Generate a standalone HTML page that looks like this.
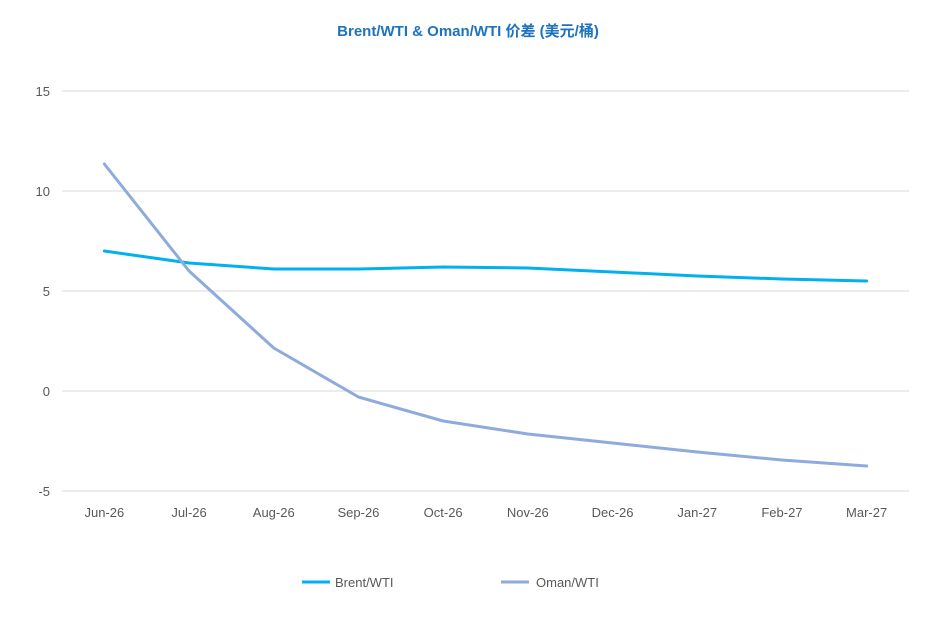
<!DOCTYPE html>
<html><head><meta charset="utf-8">
<style>
body{margin:0;background:#fff;font-family:"Liberation Sans","Noto Sans CJK SC",sans-serif;}
svg text{font-family:"Liberation Sans","Noto Sans CJK SC",sans-serif;}
</style></head>
<body>
<svg id="chart" width="937" height="634">
<text x="468" y="36" text-anchor="middle" font-size="15" font-weight="bold" fill="#1E73BE">Brent/WTI &amp; Oman/WTI 价差 (美元/桶)</text>
<g id="grid"></g><g id="yticks"></g><g id="xticks"></g><g id="series"></g>
<g>
<line x1="302" y1="582" x2="330" y2="582" stroke="#00B0F0" stroke-width="3"/>
<text x="335" y="587" font-size="13" fill="#595959">Brent/WTI</text>
<line x1="501" y1="582" x2="529" y2="582" stroke="#8FAADC" stroke-width="3"/>
<text x="536" y="587" font-size="13" fill="#595959">Oman/WTI</text>
</g>
</svg>
<script>
const categories=["Jun-26","Jul-26","Aug-26","Sep-26","Oct-26","Nov-26","Dec-26","Jan-27","Feb-27","Mar-27"];
const brent=[7.0,6.4,6.1,6.1,6.2,6.15,5.95,5.75,5.6,5.5];
const oman=[11.35,6.0,2.15,-0.3,-1.5,-2.15,-2.6,-3.05,-3.45,-3.75];
const yTicks=[15,10,5,0,-5];
const L=62,R=909;
const band=(R-L)/categories.length;
const x=i=>L+band*(i+0.5);
const y=v=>391-v*20;
const ns="http://www.w3.org/2000/svg";
function mk(tag,attrs,parent){const e=document.createElementNS(ns,tag);for(const k in attrs)e.setAttribute(k,attrs[k]);document.getElementById(parent).appendChild(e);return e;}
yTicks.forEach(t=>{
 const g=mk("line",{x1:L,x2:R,y1:y(t),y2:y(t),stroke:"#d9d9d9","stroke-width":1},"grid");
 
 
 const tx=mk("text",{x:50,y:y(t)+5,"text-anchor":"end","font-size":13,fill:"#595959"},"yticks");
 tx.textContent=t;
 
 
});
categories.forEach((c,i)=>{
 const tx=mk("text",{x:x(i),y:517,"text-anchor":"middle","font-size":13,fill:"#595959"},"xticks");
 tx.textContent=c;
 
 
});
function line(data,color,name){
 const p=mk("polyline",{points:data.map((v,i)=>x(i)+","+y(v)).join(" "),fill:"none",stroke:color,"stroke-width":3,"stroke-linejoin":"round","stroke-linecap":"round"},"series");
 
 
}
line(brent,"#00B0F0","brent-wti-line");
line(oman,"#8FAADC","oman-wti-line");
</script>
</body></html>
